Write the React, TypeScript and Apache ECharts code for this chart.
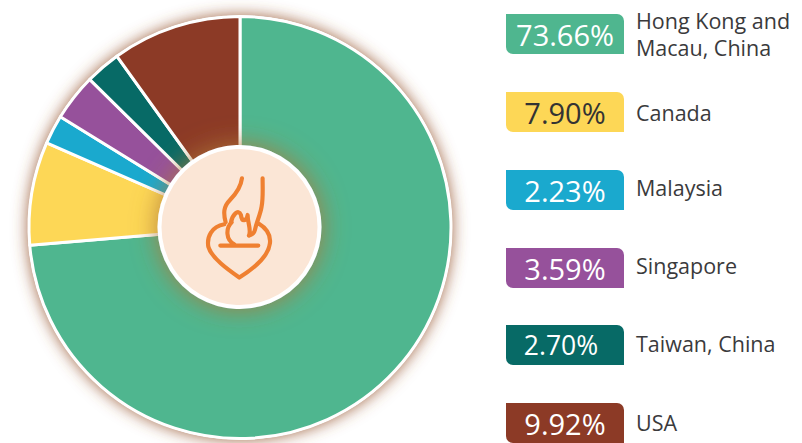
import React, { useEffect, useRef } from "react";
import * as echarts from "echarts";

const categories = ["Hong Kong and\nMacau, China", "Canada", "Malaysia", "Singapore", "Taiwan, China", "USA"];
const values = [73.66, 7.9, 2.23, 3.59, 2.7, 9.92];
const percentLabels = ["73.66%", "7.90%", "2.23%", "3.59%", "2.70%", "9.92%"];
const colors = ["#4fb68f", "#fdd756", "#1aa9ce", "#96519b", "#076a66", "#8c3a26"];
const percentColors = ["#ffffff", "#333333", "#ffffff", "#ffffff", "#ffffff", "#ffffff"];
const percentSizes = [29, 29, 29, 29, 26.5, 29];
const percentX = [565, 565, 565, 565, 561, 565];
const badgeTops = [14, 92, 170, 248, 325, 403];
const labelCenters = [34, 112, 187, 265, 343, 422];

const iconPath =
  "M203 40 C203 70 205 100 200 125 C196 150 185 170 180 195 C178 205 170 210 162 212 " +
  "M141 40 C138 65 125 85 105 105 C85 125 85 145 92 172 " +
  "M88 178 C50 185 35 215 40 245 C50 280 100 315 133 338 C170 315 220 280 225 235 C228 210 215 190 190 175 " +
  "M110 172 C92 190 92 225 118 238 " +
  "M108 172 C112 150 130 130 138 150 C140 172 155 170 158 150 C158 175 170 195 162 212 " +
  "M76 242 L190 242";
echarts.graphic.registerShape("peachIcon", echarts.graphic.extendPath(iconPath, {}));

const FONT = "'Open Sans', sans-serif";

export default function App() {
  const ref = useRef<HTMLDivElement>(null);
  useEffect(() => {
    const chart = echarts.init(ref.current!, null, { renderer: "svg" });
    const legend: any[] = [];
    categories.forEach((c, i) => {
      legend.push({
        type: "rect",
        shape: { x: 506, y: badgeTops[i], width: 118, height: 40, r: [0, 7, 0, 7] },
        style: { fill: colors[i] },
      });
      legend.push({
        type: "text",
        x: percentX[i],
        y: badgeTops[i] + 20,
        style: {
          text: percentLabels[i],
          fill: percentColors[i],
          font: `${percentSizes[i]}px ${FONT}`,
          align: "center",
          verticalAlign: "middle",
        },
      });
      legend.push({
        type: "text",
        x: 636,
        y: labelCenters[i],
        style: {
          text: c,
          fill: "#3a3a3c",
          font: `21.5px ${FONT}`,
          lineHeight: 27,
          align: "left",
          verticalAlign: "middle",
        },
      });
    });
    chart.setOption({
      animation: false,
      backgroundColor: "#ffffff",
      graphic: [
        {
          type: "circle",
          z: -1,
          silent: true,
          shape: { cx: 240, cy: 227.5, r: 212 },
          style: { fill: "#ffffff", shadowBlur: 16, shadowColor: "rgba(150,85,45,0.95)" },
        },
        {
          type: "circle",
          z: 10,
          silent: true,
          shape: { cx: 239.5, cy: 227, r: 80 },
          style: {
            fill: "#fbe6d6",
            stroke: "#ffffff",
            lineWidth: 4,
            shadowBlur: 26,
            shadowColor: "rgba(175,120,55,0.9)",
          },
        },
        {
          type: "peachIcon",
          z: 11,
          silent: true,
          x: 195,
          y: 165,
          scaleX: 1 / 3,
          scaleY: 1 / 3,
          style: { fill: "none", stroke: "#ef8031", lineWidth: 12.5, lineCap: "round", lineJoin: "round" },
        },
        ...legend,
      ],
      series: [
        {
          type: "pie",
          center: [240, 227.5],
          radius: [0, 211],
          startAngle: 90,
          clockwise: true,
          silent: true,
          label: { show: false },
          labelLine: { show: false },
          itemStyle: { borderColor: "#ffffff", borderWidth: 3 },
          data: categories.map((name, i) => ({
            name,
            value: values[i],
            itemStyle: { color: colors[i] },
          })),
        },
      ],
    });
    return () => chart.dispose();
  }, []);
  return <div ref={ref} style={{ position: "absolute", left: 0, top: 0, width: 802, height: 443 }} />;
}
